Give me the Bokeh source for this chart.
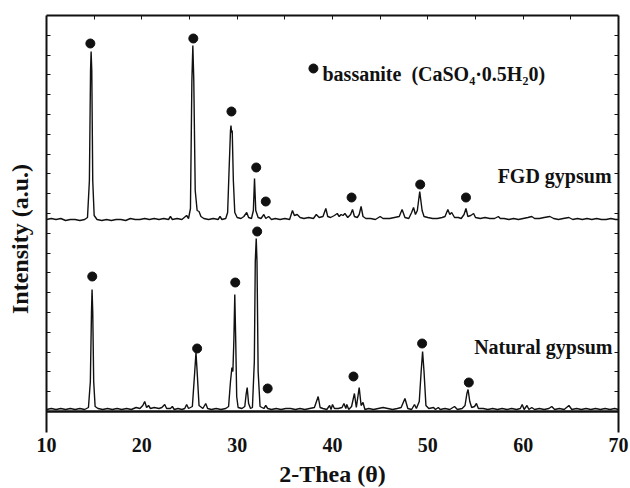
from bokeh.plotting import figure
from bokeh.models import Range1d, FixedTicker, LinearAxis, Span
from bokeh.core.properties import value
from bokeh.embed import file_html
from bokeh.resources import INLINE

# ---- data (2-theta, intensity a.u.) ----
fgd_x = [10.0, 10.5, 11.0, 11.5, 12.0, 12.5, 13.0, 13.5, 14.0, 14.3, 14.5, 14.62, 14.68, 14.75, 14.85, 15.0,
         15.3, 15.8, 16.3, 16.8, 17.3, 17.8, 18.3, 18.8, 19.3, 19.8, 20.3, 20.8, 21.3, 21.8, 22.3, 22.8,
         23.0, 23.2, 23.7, 24.2, 24.7, 24.9, 25.1, 25.25, 25.35, 25.45, 25.6, 25.8, 26.0, 26.2, 26.5, 27.0,
         27.5, 28.0, 28.2, 28.4, 28.8, 29.0, 29.15, 29.3, 29.35, 29.42, 29.48, 29.6, 29.75, 30.0, 30.4, 30.7,
         31.0, 31.2, 31.5, 31.7, 31.82, 31.95, 32.2, 32.5, 32.8, 33.0, 33.3, 33.6, 34.0, 34.5, 35.0, 35.5,
         35.8, 36.0, 36.3, 36.6, 37.0, 37.5, 38.0, 38.3, 38.6, 39.0, 39.3, 39.5, 39.8, 40.2, 40.5, 40.7,
         40.9, 41.1, 41.3, 41.6, 41.9, 42.1, 42.3, 42.6, 42.8, 43.0, 43.2, 43.5, 44.0, 44.5, 45.0, 45.3,
         46.0, 46.5, 47.0, 47.3, 47.6, 48.0, 48.3, 48.5, 48.7, 48.9, 49.15, 49.4, 49.6, 50.0, 50.5, 51.0,
         51.5, 51.8, 52.1, 52.3, 52.5, 52.8, 53.2, 53.5, 53.8, 54.0, 54.2, 54.5, 54.8, 55.0, 55.5, 56.0,
         56.5, 57.0, 57.4, 57.6, 58.0, 58.5, 59.0, 59.5, 60.0, 60.5, 60.9, 61.2, 61.7, 62.2, 62.8, 63.2,
         63.7, 64.2, 64.8, 65.2, 65.7, 66.2, 66.7, 67.2, 67.7, 68.2, 68.7, 69.2, 69.7, 70.0]
fgd_y = [1, 2, 1, 2, 0, 1, 1, 0, 1, 3, 40, 150, 169, 150, 40, 5,
         1, 0, 1, 0, 1, 1, 0, 2, 1, 1, 2, 1, 2, 1, 2, 1,
         4, 1, 2, 1, 5, 2, 12, 140, 175, 140, 30, 10, 9, 4, 2, 1,
         2, 1, 4, 1, 2, 8, 50, 90, 95, 88, 90, 40, 8, 3, 2, 4,
         8, 3, 2, 10, 42, 10, 3, 2, 6, 2, 4, 1, 2, 1, 2, 1,
         10, 5, 6, 3, 2, 3, 2, 6, 3, 4, 12, 4, 3, 5, 7, 4,
         6, 5, 7, 3, 6, 11, 4, 3, 6, 14, 4, 2, 2, 1, 4, 2,
         2, 3, 4, 11, 3, 2, 8, 13, 6, 10, 29, 10, 4, 3, 2, 2,
         3, 4, 11, 6, 8, 3, 3, 2, 6, 12, 4, 5, 7, 3, 2, 3,
         2, 2, 4, 2, 2, 1, 2, 1, 2, 3, 4, 2, 2, 3, 4, 2,
         1, 2, 3, 1, 2, 1, 2, 1, 2, 1, 1, 2, 1, 1]
fgd_offset = 191

nat_x = [10.0, 10.5, 11.0, 11.5, 12.0, 12.5, 13.0, 13.5, 14.0, 14.4, 14.6, 14.72, 14.78, 14.85, 14.95, 15.1,
         15.4, 15.9, 16.4, 16.9, 17.4, 17.9, 18.4, 18.9, 19.4, 19.8, 20.1, 20.3, 20.5, 20.7, 20.9, 21.3,
         21.8, 22.1, 22.4, 22.6, 23.0, 23.2, 23.4, 23.8, 24.2, 24.5, 24.7, 24.9, 25.3, 25.55, 25.68, 25.8,
         26.0, 26.4, 26.7, 26.9, 27.3, 27.8, 28.3, 28.8, 29.1, 29.3, 29.45, 29.55, 29.65, 29.75, 29.85, 29.95,
         30.1, 30.5, 30.8, 30.95, 31.05, 31.2, 31.4, 31.6, 31.8, 31.9, 32.0, 32.08, 32.2, 32.4, 32.8, 33.0,
         33.2, 33.6, 34.1, 34.6, 35.1, 35.6, 36.1, 36.6, 37.1, 37.6, 38.1, 38.5, 38.7, 39.0, 39.4, 39.7,
         39.85, 40.0, 40.2, 40.6, 41.0, 41.2, 41.4, 41.5, 41.7, 42.0, 42.3, 42.5, 42.8, 43.0, 43.2, 43.4,
         43.8, 44.3, 44.8, 45.3, 45.8, 46.3, 46.8, 47.2, 47.6, 47.9, 48.3, 48.6, 48.8, 49.1, 49.3, 49.45,
         49.6, 49.8, 50.1, 50.6, 50.8, 51.1, 51.3, 51.8, 52.3, 52.8, 53.1, 53.6, 53.9, 54.1, 54.22, 54.4,
         54.6, 54.9, 55.1, 55.3, 55.8, 56.3, 56.8, 57.3, 57.8, 58.3, 58.8, 59.3, 59.7, 59.9, 60.1, 60.4,
         60.6, 60.9, 61.2, 61.7, 62.2, 62.7, 63.0, 63.3, 63.8, 64.3, 64.8, 65.1, 65.6, 66.1, 66.6, 67.1,
         67.6, 68.1, 68.6, 69.1, 69.6, 70.0]
nat_y = [2, 3, 2, 3, 2, 3, 2, 3, 2, 4, 30, 100, 122, 100, 30, 5,
         3, 2, 3, 2, 3, 2, 3, 2, 4, 3, 6, 10, 4, 6, 3, 4,
         3, 4, 7, 3, 3, 5, 2, 3, 2, 3, 7, 3, 5, 40, 59, 40,
         6, 3, 8, 3, 2, 3, 2, 3, 5, 30, 44, 40, 70, 117, 70, 15,
         4, 3, 5, 18, 24, 8, 3, 4, 50, 150, 173, 150, 40, 5, 3, 6,
         3, 2, 3, 2, 3, 3, 2, 3, 2, 3, 4, 15, 4, 3, 2, 6,
         2, 7, 3, 3, 4, 8, 3, 7, 2, 5, 18, 4, 24, 6, 9, 2,
         3, 2, 3, 4, 3, 2, 3, 4, 13, 3, 2, 7, 3, 10, 40, 60,
         40, 6, 3, 4, 2, 4, 2, 3, 2, 5, 2, 3, 6, 18, 22, 10,
         4, 5, 8, 3, 3, 2, 3, 2, 3, 2, 3, 2, 3, 7, 2, 6,
         2, 4, 2, 3, 2, 3, 5, 2, 3, 2, 6, 2, 3, 2, 3, 2,
         3, 2, 3, 2, 3, 2]

# bassanite markers
fgd_dot_x = [14.6, 25.4, 29.4, 32.0, 33.0, 42.0, 49.2, 54.0]
fgd_dot_y = [368, 373, 300, 244, 210, 214, 227, 214]
nat_dot_x = [14.8, 25.8, 29.8, 32.1, 33.2, 42.2, 49.4, 54.3]
nat_dot_y = [135, 63, 129, 180, 23, 35, 68, 29]

x_ticks = [10, 20, 30, 40, 50, 60, 70]
top_ticks = [15, 20, 25, 30, 35, 40, 45, 50, 55, 60, 65]
y_ticks = [19.8 * i for i in range(1, 20)]

FONT = "Liberation Serif"
INK = "#111111"

p = figure(frame_width=572, frame_height=417, x_range=Range1d(10, 70), y_range=Range1d(-21, 396),
           output_backend="svg", toolbar_location=None,
           min_border_left=46, min_border_right=12, min_border_top=15, min_border_bottom=56)
p.outline_line_color = None
p.grid.visible = False

# bottom axis: labels only
xa = p.xaxis[0]
xa.ticker = FixedTicker(ticks=x_ticks)
xa.axis_line_color = None
xa.major_tick_line_color = None
xa.minor_tick_line_color = None
xa.major_tick_in = 0
xa.major_tick_out = 0
xa.major_label_standoff = 5
xa.major_label_text_font = FONT
xa.major_label_text_font_style = "bold"
xa.major_label_text_font_size = "20px"
xa.major_label_text_color = INK
xa.axis_label = "2-Thea (θ)"
xa.axis_label_text_font = FONT
xa.axis_label_text_font_style = "bold"
xa.axis_label_text_font_size = "24px"
xa.axis_label_text_color = INK
xa.axis_label_standoff = 6

# left axis: line + inward ticks, no tick labels
ya = p.yaxis[0]
ya.ticker = FixedTicker(ticks=[], minor_ticks=y_ticks)
ya.axis_line_width = 2
ya.axis_line_color = INK
ya.major_tick_line_color = None
ya.major_tick_in = 0
ya.major_tick_out = 0
ya.major_label_standoff = 0
ya.minor_tick_in = 4
ya.minor_tick_out = 0
ya.minor_tick_line_width = 1
ya.minor_tick_line_color = INK
ya.axis_label = "Intensity (a.u.)\u00a0\u00a0\u00a0\u00a0\u00a0"
ya.axis_label_text_font = FONT
ya.axis_label_text_font_style = "bold"
ya.axis_label_text_font_size = "24px"
ya.axis_label_text_color = INK
ya.axis_label_standoff = 14

ra = LinearAxis(ticker=FixedTicker(ticks=[], minor_ticks=y_ticks), major_tick_line_color=None,
                major_tick_in=0, major_tick_out=0,
                minor_tick_in=4, minor_tick_out=0, minor_tick_line_color=INK,
                axis_line_width=2, axis_line_color=INK)
p.add_layout(ra, "right")

ta = LinearAxis(ticker=FixedTicker(ticks=[], minor_ticks=top_ticks), major_tick_line_color=None,
                major_tick_in=0, major_tick_out=0,
                minor_tick_in=4, minor_tick_out=0, minor_tick_line_color=INK,
                axis_line_width=2, axis_line_color=INK)
p.add_layout(ta, "above")

# baseline line at zero intensity
p.add_layout(Span(location=0, dimension="width", line_color=INK, line_width=2.5))

# traces
p.line(nat_x, nat_y, line_color=INK, line_width=1.4)
p.line(fgd_x, [v + fgd_offset for v in fgd_y], line_color=INK, line_width=1.4)

# markers
p.scatter(fgd_dot_x, fgd_dot_y, size=9, color=INK)
p.scatter(nat_dot_x, nat_dot_y, size=9, color=INK)
p.scatter([38.0], [343], size=9, color=INK)

# annotations
p.text(x=[38.95], y=[338], text=["bassanite \u00a0(CaSO₄·0.5H₂0)"], text_font=value(FONT),
       text_font_style="bold", text_font_size="20px", text_align="left",
       text_baseline="alphabetic", text_color=INK)
p.text(x=[69.27, 69.37], y=[236, 65], text=["FGD gypsum", "Natural gypsum"], text_font=value(FONT),
       text_font_style="bold", text_font_size="20px", text_align="right",
       text_baseline="alphabetic", text_color=INK)

open("out.html", "w").write(file_html(p, INLINE))
